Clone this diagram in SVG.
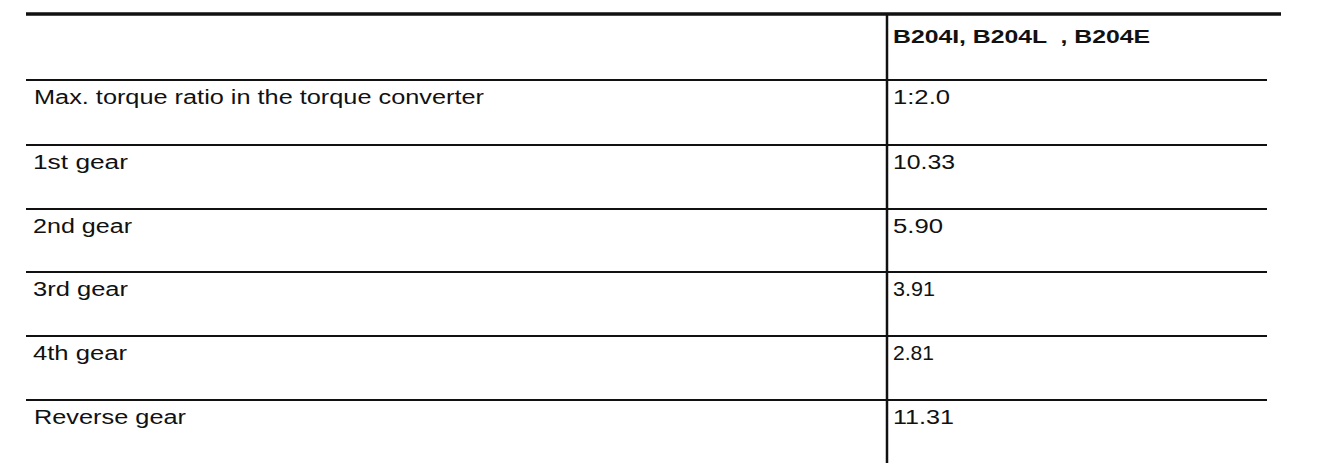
<svg xmlns="http://www.w3.org/2000/svg" width="1328" height="470" viewBox="0 0 1328 470">
<style>
.t{font-family:"Liberation Sans",Arial,sans-serif;font-size:20px;fill:#111}
.b{font-weight:bold;font-size:19px}
.ln{stroke:#111;stroke-width:2;fill:none}
.thick{stroke-width:3.5}
</style>
<rect width="1328" height="470" fill="#fff"/>
<g id="connectors">
<line class="ln thick" x1="26" y1="14" x2="1281" y2="14"/>
<line class="ln" x1="26" y1="80" x2="1267" y2="80"/>
<line class="ln" x1="26" y1="145" x2="1267" y2="145"/>
<line class="ln" x1="26" y1="209" x2="1267" y2="209"/>
<line class="ln" x1="26" y1="272" x2="1267" y2="272"/>
<line class="ln" x1="26" y1="336" x2="1267" y2="336"/>
<line class="ln" x1="26" y1="400" x2="1267" y2="400"/>
<line class="ln" x1="887" y1="14" x2="887" y2="463" style="stroke-width:2.5"/>
</g>
<g id="header">
<text class="t b" x="893" y="43" textLength="257" lengthAdjust="spacingAndGlyphs" xml:space="preserve" style="white-space:pre">B204I, B204L  , B204E</text>
</g>
<g id="row-torque">
<text class="t" x="34" y="104" textLength="450" lengthAdjust="spacingAndGlyphs">Max. torque ratio in the torque converter</text>
<text class="t" x="893" y="104" textLength="57" lengthAdjust="spacingAndGlyphs">1:2.0</text>
</g>
<g id="row-1st">
<text class="t" x="33" y="169" textLength="95" lengthAdjust="spacingAndGlyphs">1st gear</text>
<text class="t" x="893" y="169" textLength="62" lengthAdjust="spacingAndGlyphs">10.33</text>
</g>
<g id="row-2nd">
<text class="t" x="33" y="233" textLength="99" lengthAdjust="spacingAndGlyphs">2nd gear</text>
<text class="t" x="893" y="233" textLength="50" lengthAdjust="spacingAndGlyphs">5.90</text>
</g>
<g id="row-3rd">
<text class="t" x="33" y="296" textLength="95" lengthAdjust="spacingAndGlyphs">3rd gear</text>
<text class="t" x="893" y="296" textLength="42" lengthAdjust="spacingAndGlyphs">3.91</text>
</g>
<g id="row-4th">
<text class="t" x="33" y="360" textLength="94" lengthAdjust="spacingAndGlyphs">4th gear</text>
<text class="t" x="893" y="360" textLength="41" lengthAdjust="spacingAndGlyphs">2.81</text>
</g>
<g id="row-reverse">
<text class="t" x="34" y="424" textLength="152" lengthAdjust="spacingAndGlyphs">Reverse gear</text>
<text class="t" x="893" y="424" textLength="61" lengthAdjust="spacingAndGlyphs">11.31</text>
</g>
</svg>
